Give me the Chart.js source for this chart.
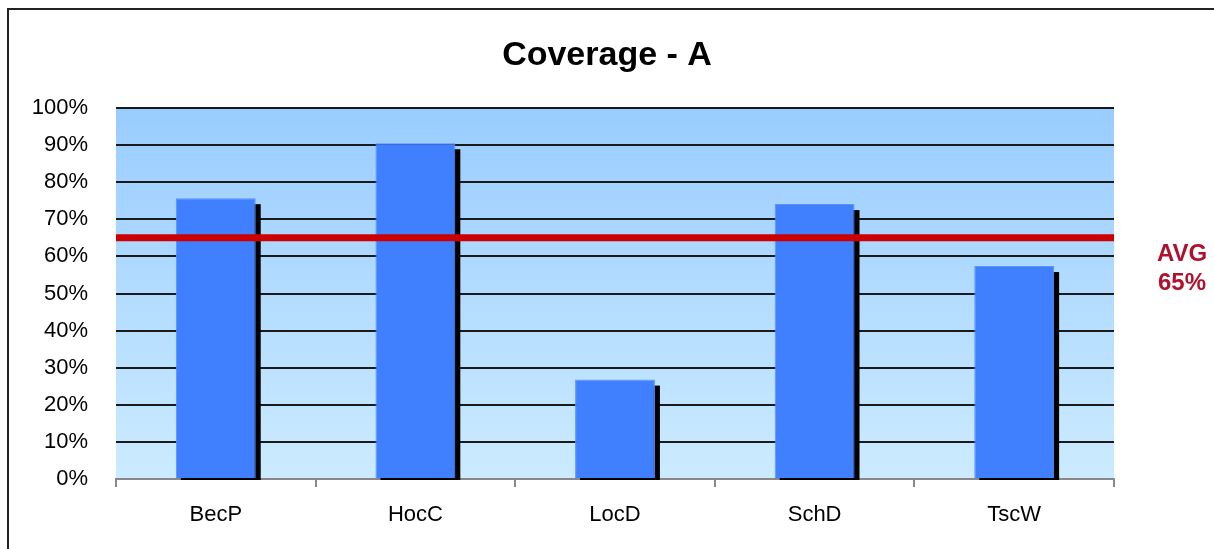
<!DOCTYPE html>
<html>
<head>
<meta charset="utf-8">
<script src="https://cdn.jsdelivr.net/npm/chart.js@4"></script>
<style>
  html, body { margin: 0; padding: 0; background: #fff; }
  #wrap { position: relative; width: 1214px; height: 549px; overflow: hidden; }
  #frame { position: absolute; left: 7px; top: 8px; width: 1220px; height: 560px; border: 2px solid #222; box-sizing: border-box; pointer-events: none; }
</style>
</head>
<body>
<div id="wrap">
  <canvas id="myChart" width="1214" height="549"></canvas>
  <div id="frame"></div>
</div>
<script>
// chart data
let categories = ["BecP", "HocC", "LocD", "SchD", "TscW"]
let coverage = [75.7, 90.5, 26.8, 74.1, 57.4]
let avgValue = 65
let avgLabel = ["AVG", "65%"]
let chartTitle = "Coverage - A"

const font = "'Liberation Sans', Arial, sans-serif"

// light blue gradient behind the plot
const bgPlugin = {
    id: "bgPlugin",
    beforeDraw(chart) {
        const ctx = chart.ctx
        const a = chart.chartArea
        let g = ctx.createLinearGradient(0, a.top, 0, a.bottom)
        g.addColorStop(0, "#99CCFF")
        g.addColorStop(1, "#CCEBFF")
        ctx.save()
        ctx.fillStyle = g
        ctx.fillRect(a.left, a.top, a.right - a.left, a.bottom - a.top)
        ctx.restore()
    }
}

// black drop shadow on the bars
const shadowPlugin = {
    id: "shadowPlugin",
    beforeDatasetsDraw(chart) {
        const ctx = chart.ctx
        const meta = chart.getDatasetMeta(0)
        ctx.save()
        ctx.fillStyle = "#000"
        meta.data.forEach(bar => {
            let left = bar.x - bar.width / 2 + 5
            let top = bar.y + 6
            ctx.fillRect(left, top, bar.width, bar.base + 2 - top)
        })
        ctx.restore()
    }
}

// red average line + label on the right
const avgPlugin = {
    id: "avgPlugin",
    afterDatasetsDraw(chart) {
        const ctx = chart.ctx
        const a = chart.chartArea
        let y = chart.scales.y.getPixelForValue(avgValue)
        ctx.save()
        ctx.strokeStyle = "#CC0000"
        ctx.lineWidth = 7
        ctx.beginPath()
        ctx.moveTo(a.left, y)
        ctx.lineTo(a.right, y)
        ctx.stroke()
        ctx.fillStyle = "#B0122E"
        ctx.font = "bold 24px " + font
        ctx.textAlign = "center"
        ctx.textBaseline = "middle"
        ctx.fillText(avgLabel[0], 1182, y + 17)
        ctx.fillText(avgLabel[1], 1182, y + 46)
        ctx.restore()
    }
}

new Chart("myChart", {
    type: "bar",
    data: {
        labels: categories,
        datasets: [{
            data: coverage,
            backgroundColor: "#4080FF",
            borderColor: "#5A92FF",
            borderWidth: 1,
            categoryPercentage: 1,
            barPercentage: 0.4
        }]
    },
    options: {
        responsive: false,
        animation: false,
        layout: { padding: 0 },
        plugins: {
            legend: { display: false },
            tooltip: { enabled: false },
            title: {
                display: true,
                text: chartTitle,
                color: "#000",
                font: { family: font, size: 34, weight: "bold" },
                padding: { top: 35, bottom: 32.2 }
            }
        },
        scales: {
            x: {
                afterFit(scale) { scale.height = 70 },
                grid: {
                    offset: true,
                    drawOnChartArea: false,
                    drawTicks: true,
                    tickLength: 8,
                    color: "#888",
                    lineWidth: 2
                },
                border: { display: true, color: "#888", width: 2 },
                ticks: {
                    color: "#000",
                    padding: 15,
                    font: { family: font, size: 22 }
                }
            },
            y: {
                min: 0,
                max: 100,
                afterFit(scale) { scale.width = 116 },
                grid: {
                    drawTicks: false,
                    color: ctx => ctx.tick.value === 0 ? "rgba(0,0,0,0)" : "#1a1a1a",
                    lineWidth: 2
                },
                border: { display: false },
                ticks: {
                    stepSize: 10,
                    padding: 28,
                    color: "#000",
                    font: { family: font, size: 22 },
                    callback: v => v + "%"
                }
            },
            // empty right axis, only keeps room for the AVG label
            yRight: {
                position: "right",
                min: 0,
                max: 100,
                afterFit(scale) { scale.width = 100 },
                grid: { display: false },
                border: { display: false },
                ticks: { display: false }
            }
        }
    },
    plugins: [bgPlugin, shadowPlugin, avgPlugin]
})
</script>
</body>
</html>
